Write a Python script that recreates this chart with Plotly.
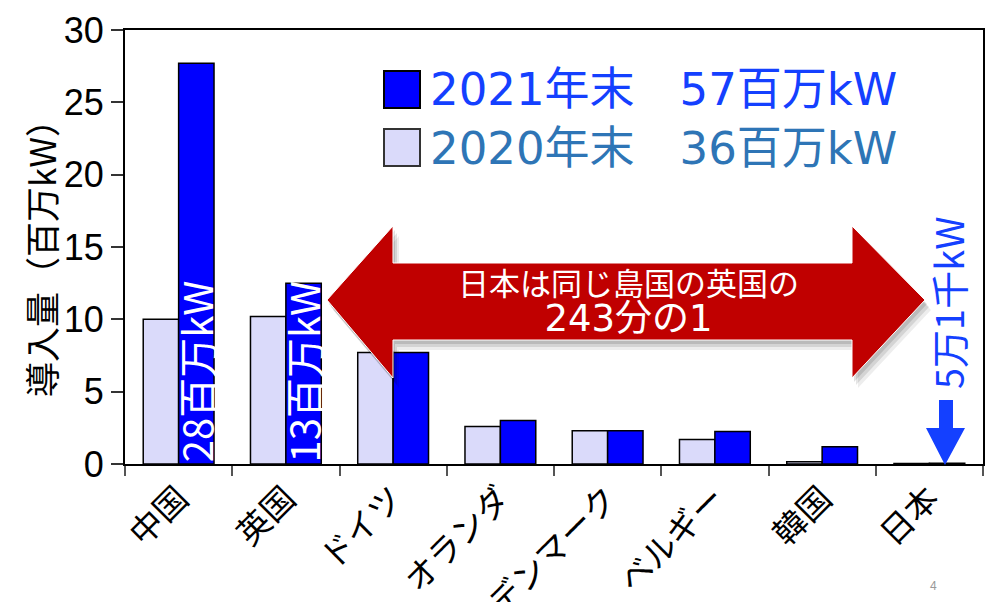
import plotly.graph_objects as go

# ---- data ----
countries = ["中国", "英国", "ドイツ", "オランダ", "デンマーク", "ベルギー", "韓国", "日本"]
cap_2020 = [10.0, 10.2, 7.7, 2.6, 2.3, 1.7, 0.15, 0.03]
cap_2021 = [27.7, 12.5, 7.7, 3.0, 2.3, 2.25, 1.2, 0.05]
bar_notes = ["28百万kW", "13百万kW", "", "", "", "", "", ""]
legend_2021 = "2021年末　57百万kW"
legend_2020 = "2020年末　36百万kW"
y_title = "導入量（百万kW）"
arrow_text1 = "日本は同じ島国の英国の"
arrow_text2 = "243分の1"
japan_note = "5万1千kW"

JP = "Noto Sans CJK JP"
WIDE = "DejaVu Sans, Noto Sans CJK JP"
C21 = "#0000ff"
C20 = "#dadafa"
TXT21 = "#1440ff"
TXT20 = "#2e75b6"

W, H = 989, 602
L, R, T, B = 125, 6, 30, 138
PW, PH = W - L - R, H - T - B


def px(x):
    return (x - L) / PW


def py(y):
    return (H - B - y) / PH


fig = go.Figure()
fig.add_trace(go.Bar(x=countries, y=cap_2020, name="2020年末", marker=dict(color=C20, line=dict(color="black", width=1.5))))
fig.add_trace(go.Bar(x=countries, y=cap_2021, name="2021年末", marker=dict(color=C21, line=dict(color="black", width=1.5))))

shapes = []
annotations = []

# texts inside 2021 bars
for c, txt in zip(countries, bar_notes):
    if txt:
        annotations.append(dict(x=c, y=0, xref="x", yref="y", text=txt, textangle=-90,
                                showarrow=False, xshift=17.5, xanchor="center", yanchor="bottom", yshift=0,
                                font=dict(family=JP, size=40, color="white")))

# red double arrow (with soft shadow)
def arrow_path(dx=0, dy=0):
    pts = [(327, 300), (393, 226), (393, 263), (852, 263), (852, 226), (925, 300),
           (852, 378), (852, 340), (393, 340), (393, 378)]
    s = "M " + " L ".join(f"{px(x + dx):.5f},{py(y + dy):.5f}" for x, y in pts) + " Z"
    return s

for (dx, dy, op) in [(6, 10, 0.07), (4, 7, 0.1), (2, 4, 0.12)]:
    shapes.append(dict(type="path", path=arrow_path(dx, dy), xref="paper", yref="paper",
                       fillcolor=f"rgba(0,0,0,{op})", line=dict(width=0), layer="above"))
shapes.append(dict(type="path", path=arrow_path(), xref="paper", yref="paper",
                   fillcolor="#c00000", line=dict(color="white", width=1), layer="above"))


def note(x, y, text, size, color, angle=0, xanchor="center", family=JP):
    annotations.append(dict(x=px(x), y=py(y), xref="paper", yref="paper", text=text, textangle=angle,
                            xanchor=xanchor, yanchor="middle", showarrow=False,
                            font=dict(family=family, size=size, color=color)))


note(628, 303, f'<span style="font-size:31px">{arrow_text1}</span><br>'
               f'<span style="font-size:37px">{arrow_text2}</span>', 28, "white", family=WIDE)

# Japan note and blue down arrow
note(947, 303, japan_note, 38, TXT21, angle=-90)
ja = [(939, 400), (953, 400), (953, 428), (965, 428), (945, 465), (926, 428), (939, 428)]
shapes.append(dict(type="path", xref="paper", yref="paper", fillcolor=TXT21, line=dict(width=0),
                   path="M " + " L ".join(f"{px(x):.5f},{py(y):.5f}" for x, y in ja) + " Z", layer="above"))

# legend boxes + texts
shapes.append(dict(type="rect", xref="paper", yref="paper", x0=px(384), x1=px(420), y0=py(71), y1=py(108),
                   fillcolor=C21, line=dict(color="black", width=2)))
shapes.append(dict(type="rect", xref="paper", yref="paper", x0=px(384), x1=px(420), y0=py(129), y1=py(166),
                   fillcolor=C20, line=dict(color="#333333", width=2)))
note(428, 90, legend_2021, 45, TXT21, xanchor="left", family=WIDE)
note(428, 148, legend_2020, 45, TXT20, xanchor="left", family=WIDE)

# y title
note(40, 250, y_title, 35, "black", angle=-90)
# page number
note(933, 586, "4", 12, "#999999", family="Liberation Sans")

fig.update_layout(
    width=W, height=H,
    margin=dict(l=L, r=R, t=T, b=B),
    paper_bgcolor="white", plot_bgcolor="white",
    barmode="group", bargap=0.34, bargroupgap=0,
    showlegend=False,
    shapes=shapes, annotations=annotations,
    font=dict(family=JP, color="black"),
)
fig.update_yaxes(range=[0, 30], dtick=5, showgrid=False, zeroline=False, automargin=False,
                 showline=True, linecolor="black", linewidth=2, mirror=True,
                 ticks="outside", ticklen=12, tickwidth=1.5, tickcolor="#333",
                 tickfont=dict(family="Liberation Sans", size=36, color="black"))
fig.update_xaxes(showgrid=False, showline=True, linecolor="black", linewidth=2, mirror=True, automargin=False,
                 ticks="outside", tickson="boundaries", ticklen=10, tickwidth=1.5, tickcolor="#555",
                 tickangle=-45, tickfont=dict(family=JP, size=33, color="black"))

fig.write_html("out.html")
